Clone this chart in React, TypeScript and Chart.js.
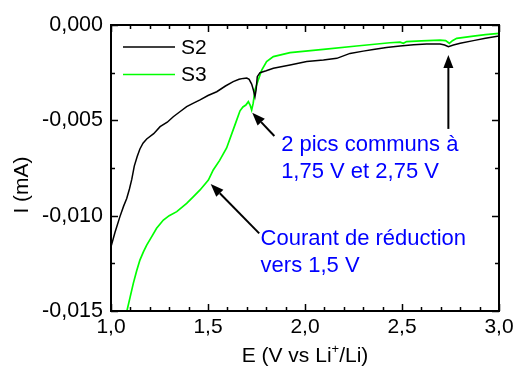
import { useEffect, useRef } from 'react';
import { Chart, registerables } from 'chart.js';

Chart.register(...registerables);

const FONT = '"Liberation Sans", Arial, Helvetica, sans-serif';

// S2 (black)
const s2E = [1.0, 1.02, 1.046, 1.065, 1.081, 1.095, 1.107, 1.12, 1.135, 1.149, 1.165, 1.184, 1.22, 1.253, 1.29, 1.321, 1.355, 1.39, 1.425, 1.459, 1.5, 1.545, 1.59, 1.63, 1.66, 1.682, 1.7, 1.712, 1.725, 1.734, 1.742, 1.748, 1.754, 1.768, 1.8, 1.837, 1.923, 2.009, 2.095, 2.164, 2.232, 2.3, 2.352, 2.42, 2.49, 2.56, 2.627, 2.696, 2.72, 2.739, 2.765, 2.8, 2.868, 2.93, 3.0];
const s2I = [-0.01163, -0.0109, -0.01005, -0.0095, -0.0091, -0.0086, -0.0081, -0.0074, -0.0069, -0.0065, -0.0062, -0.00598, -0.0057, -0.00533, -0.0051, -0.00481, -0.00455, -0.00428, -0.0041, -0.00393, -0.0037, -0.0035, -0.0032, -0.00297, -0.00285, -0.0028, -0.00278, -0.00285, -0.0031, -0.00341, -0.00376, -0.0034, -0.00271, -0.0025, -0.0024, -0.00227, -0.0021, -0.00192, -0.00184, -0.00175, -0.00149, -0.00137, -0.00128, -0.00118, -0.0011, -0.00104, -0.001, -0.001, -0.00105, -0.00114, -0.00105, -0.00096, -0.00082, -0.0007, -0.00058];

// S3 (green)
const s3E = [1.065, 1.081, 1.098, 1.115, 1.132, 1.149, 1.167, 1.184, 1.21, 1.235, 1.27, 1.3, 1.339, 1.39, 1.425, 1.459, 1.502, 1.527, 1.56, 1.596, 1.639, 1.665, 1.68, 1.695, 1.708, 1.717, 1.725, 1.733, 1.742, 1.759, 1.777, 1.802, 1.837, 1.923, 2.095, 2.266, 2.438, 2.49, 2.507, 2.524, 2.6, 2.696, 2.725, 2.744, 2.76, 2.782, 2.868, 2.93, 3.0];
const s3I = [-0.016, -0.01504, -0.0143, -0.01355, -0.0129, -0.01233, -0.0119, -0.01154, -0.0111, -0.01066, -0.01023, -0.01, -0.00979, -0.00935, -0.009, -0.00865, -0.00813, -0.0076, -0.0071, -0.00645, -0.00524, -0.0045, -0.0043, -0.0042, -0.00402, -0.0042, -0.00446, -0.0041, -0.00341, -0.00288, -0.00236, -0.00192, -0.00166, -0.00145, -0.00128, -0.0011, -0.00093, -0.0009, -0.00096, -0.00087, -0.00083, -0.00079, -0.00082, -0.00096, -0.00082, -0.0007, -0.00058, -0.0005, -0.00044];

const seriesLabels = ['S2', 'S3'];
const seriesColors = ['#000000', '#00ff00'];

const xMin = 1.0, xMax = 3.0, xMajor = 0.5, xMinor = 0.1;
const yMin = -0.015, yMax = 0, yMajor = 0.005, yMinor = 0.0025;

// annotations (data coordinates)
const arrows = [
  { from: [1.842, -0.00582], to: [1.728, -0.0046] },
  { from: [2.739, -0.00545], to: [2.739, -0.00157] },
  { from: [1.764, -0.01093], to: [1.514, -0.00834] },
];
const notes = [
  { lines: ['2 pics communs à', '1,75 V et 2,75 V'], at: [1.877, -0.00661] },
  { lines: ['Courant de réduction', 'vers 1,5 V'], at: [1.771, -0.01154] },
];

const fmt = (v: number, d: number) => {
  const s = Math.abs(v) < 1e-12 ? (0).toFixed(d) : v.toFixed(d);
  return s.replace('.', ',');
};

const overlay = {
  id: 'overlay',
  afterDatasetsDraw(chart: any) {
    const { ctx, chartArea: a, scales } = chart;
    const x = scales.x, y = scales.y;
    ctx.save();
    ctx.strokeStyle = '#000';
    ctx.lineWidth = 2;
    ctx.lineCap = 'butt';
    ctx.strokeRect(a.left, a.top, a.right - a.left, a.bottom - a.top);

    // ticks inward on all sides
    ctx.lineWidth = 1.5;
    const nx = Math.round((xMax - xMin) / xMinor);
    for (let i = 0; i <= nx; i++) {
      const v = xMin + i * xMinor;
      const r = v / xMajor;
      const major = Math.abs(r - Math.round(r)) < 1e-6;
      const len = major ? 7 : 4;
      const px = Math.round(x.getPixelForValue(v)) + 0.5;
      ctx.beginPath();
      ctx.moveTo(px, a.bottom); ctx.lineTo(px, a.bottom - len);
      ctx.moveTo(px, a.top); ctx.lineTo(px, a.top + len);
      ctx.stroke();
    }
    const ny = Math.round((yMax - yMin) / yMinor);
    for (let i = 0; i <= ny; i++) {
      const v = yMin + i * yMinor;
      const r = v / yMajor;
      const major = Math.abs(r - Math.round(r)) < 1e-6;
      const len = major ? 7 : 4;
      const py = Math.round(y.getPixelForValue(v)) + 0.5;
      ctx.beginPath();
      ctx.moveTo(a.left, py); ctx.lineTo(a.left + len, py);
      ctx.moveTo(a.right, py); ctx.lineTo(a.right - len, py);
      ctx.stroke();
    }

    // legend
    ctx.font = `21px ${FONT}`;
    ctx.textBaseline = 'middle';
    ctx.textAlign = 'left';
    chart.data.datasets.forEach((ds: any, i: number) => {
      const ly = a.top + 22 + i * 27.5;
      ctx.strokeStyle = ds.borderColor;
      ctx.lineWidth = 1.5;
      ctx.beginPath();
      ctx.moveTo(a.left + 12, ly); ctx.lineTo(a.left + 64, ly);
      ctx.stroke();
      ctx.fillStyle = '#000';
      ctx.fillText(ds.label, a.left + 70, ly + 1);
    });

    // arrows
    ctx.strokeStyle = '#000';
    ctx.fillStyle = '#000';
    arrows.forEach((ar) => {
      const x1 = x.getPixelForValue(ar.from[0]), y1 = y.getPixelForValue(ar.from[1]);
      const x2 = x.getPixelForValue(ar.to[0]), y2 = y.getPixelForValue(ar.to[1]);
      const ang = Math.atan2(y2 - y1, x2 - x1);
      const hl = 13, hw = 5;
      const bx = x2 - hl * Math.cos(ang), by = y2 - hl * Math.sin(ang);
      ctx.lineWidth = 2;
      ctx.beginPath();
      ctx.moveTo(x1, y1); ctx.lineTo(bx, by);
      ctx.stroke();
      ctx.beginPath();
      ctx.moveTo(x2, y2);
      ctx.lineTo(bx + hw * Math.sin(ang), by - hw * Math.cos(ang));
      ctx.lineTo(bx - hw * Math.sin(ang), by + hw * Math.cos(ang));
      ctx.closePath();
      ctx.fill();
    });

    // notes
    ctx.font = `22px ${FONT}`;
    ctx.fillStyle = '#0000ff';
    ctx.textBaseline = 'alphabetic';
    ctx.textAlign = 'left';
    notes.forEach((n) => {
      const px = x.getPixelForValue(n.at[0]);
      const py = y.getPixelForValue(n.at[1]);
      n.lines.forEach((l, i) => ctx.fillText(l, px, py + i * 27));
    });

    // axis titles
    ctx.fillStyle = '#000';
    ctx.font = `21px ${FONT}`;
    const parts = ['E (V vs Li', '+', '/Li)'];
    const supFont = `13px ${FONT}`;
    const w0 = ctx.measureText(parts[0]).width;
    const w2 = ctx.measureText(parts[2]).width;
    ctx.font = supFont;
    const w1 = ctx.measureText(parts[1]).width;
    const total = w0 + w1 + w2;
    const cx = (a.left + a.right) / 2;
    let sx = cx - total / 2;
    const base = 362;
    ctx.font = `21px ${FONT}`;
    ctx.fillText(parts[0], sx, base); sx += w0;
    ctx.font = supFont;
    ctx.fillText(parts[1], sx, base - 9); sx += w1;
    ctx.font = `21px ${FONT}`;
    ctx.fillText(parts[2], sx, base);

    ctx.save();
    ctx.translate(28, 185);
    ctx.rotate(-Math.PI / 2);
    ctx.textAlign = 'center';
    ctx.fillText('I (mA)', 0, 0);
    ctx.restore();

    ctx.restore();
  },
};

export default function App() {
  const ref = useRef<HTMLCanvasElement | null>(null);
  useEffect(() => {
    document.body.style.margin = '0';
    if (!ref.current) return;
    const chart = new Chart(ref.current, {
      type: 'line',
      data: {
        datasets: [
          {
            label: seriesLabels[0],
            data: s2E.map((e, i) => ({ x: e, y: s2I[i] })),
            borderColor: seriesColors[0],
            borderWidth: 1.5,
            pointRadius: 0,
            tension: 0,
            clip: 0,
          },
          {
            label: seriesLabels[1],
            data: s3E.map((e, i) => ({ x: e, y: s3I[i] })),
            borderColor: seriesColors[1],
            borderWidth: 1.7,
            pointRadius: 0,
            tension: 0,
            clip: 0,
          },
        ],
      },
      options: {
        responsive: false,
        animation: false,
        devicePixelRatio: 1,
        layout: { padding: { left: 0, right: 20, top: 25, bottom: 0 } },
        plugins: { legend: { display: false }, tooltip: { enabled: false } },
        scales: {
          x: {
            type: 'linear',
            min: xMin,
            max: xMax,
            grid: { display: false, drawTicks: false },
            border: { display: false },
            ticks: {
              stepSize: xMajor,
              color: '#000',
              font: { family: FONT, size: 21 },
              padding: 4,
              maxRotation: 0,
              autoSkip: false,
              callback: (v: any) => fmt(Number(v), 1),
            },
            afterFit: (s: any) => { s.height = 56; },
          },
          y: {
            type: 'linear',
            min: yMin,
            max: yMax,
            grid: { display: false, drawTicks: false },
            border: { display: false },
            ticks: {
              stepSize: yMajor,
              color: '#000',
              font: { family: FONT, size: 21.5 },
              padding: 8,
              autoSkip: false,
              callback: (v: any) => fmt(Number(v), 3),
            },
            afterFit: (s: any) => { s.width = 111; },
          },
        },
      },
      plugins: [overlay],
    } as any);
    return () => chart.destroy();
  }, []);
  return (
    <div style={{ width: 519, height: 367 }}>
      <canvas ref={ref} width={519} height={367} style={{ display: 'block' }} />
    </div>
  );
}
